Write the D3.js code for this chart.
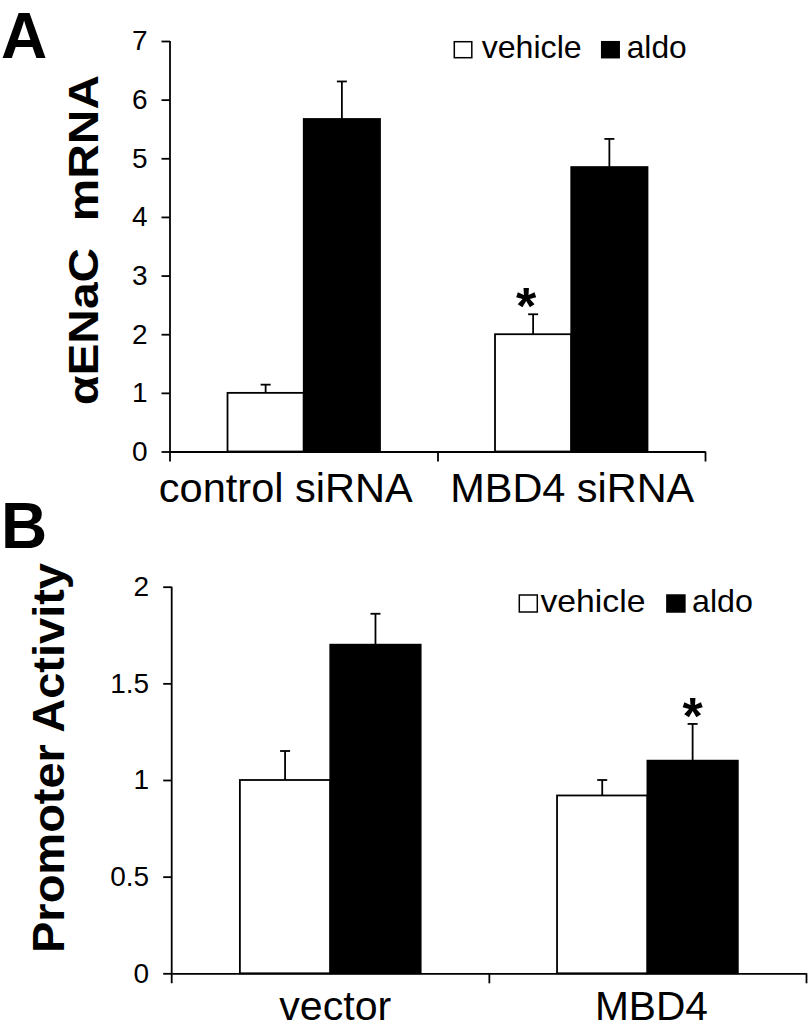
<!DOCTYPE html>
<html>
<head>
<meta charset="utf-8">
<script src="https://cdn.jsdelivr.net/npm/d3@7"></script>
<style>
  html, body { margin: 0; padding: 0; background: #fff; }
  svg { display: block; }
  text { font-family: "Liberation Sans", Arial, Helvetica, sans-serif; fill: #000; }
</style>
</head>
<body>
<svg id="chart" width="808" height="1034"></svg>
<script>
// ---------------- DATA ----------------
const seriesNames = ["vehicle", "aldo"];
const seriesFill = ["#ffffff", "#000000"];

// Panel A: alpha-ENaC mRNA
const aCategories = ["control siRNA", "MBD4 siRNA"];
const aVehicle = [1.0, 2.0];
const aVehicleErr = [0.14, 0.34];
const aAldo = [5.67, 4.85];
const aAldoErr = [0.64, 0.48];
const aTicks = [0, 1, 2, 3, 4, 5, 6, 7];
const aStars = [{ category: "MBD4 siRNA", series: "vehicle" }];

// Panel B: Promoter Activity
const bCategories = ["vector", "MBD4"];
const bVehicle = [1.0, 0.92];
const bVehicleErr = [0.15, 0.08];
const bAldo = [1.70, 1.10];
const bAldoErr = [0.16, 0.19];
const bTicks = [0, 0.5, 1, 1.5, 2];
const bTickLabels = ["0", "0.5", "1", "1.5", "2"];
const bStars = [{ category: "MBD4", series: "aldo" }];

// ---------------- DRAWING ----------------
const svg = d3.select("#chart");

function drawPanel(cfg) {
  const g = svg.append("g");
  const y = d3.scaleLinear().domain([0, cfg.max]).range([cfg.yBase, cfg.yTop]);
  const x = d3.scaleBand().domain(cfg.categories).range([cfg.x0, cfg.x1])
    .paddingInner(0.43).paddingOuter(0.215);
  const xs = d3.scaleBand().domain(seriesNames).range([0, x.bandwidth()]);

  const rows = [];
  cfg.categories.forEach((c, i) => {
    seriesNames.forEach((s, j) => {
      rows.push({ category: c, series: s, j: j,
        value: cfg.values[j][i], err: cfg.errors[j][i] });
    });
  });

  // bars
  g.selectAll("rect.bar").data(rows).enter().append("rect")
    .attr("class", "bar")
    .attr("x", d => x(d.category) + xs(d.series))
    .attr("y", d => y(d.value))
    .attr("width", xs.bandwidth())
    .attr("height", d => y(0) - y(d.value))
    .attr("fill", d => seriesFill[d.j])
    .attr("stroke", "#000")
    .attr("stroke-width", 1.8);

  // error bars (upper only)
  const cx = d => x(d.category) + xs(d.series) + xs.bandwidth() / 2;
  g.selectAll("line.err").data(rows).enter().append("line")
    .attr("x1", cx).attr("x2", cx)
    .attr("y1", d => y(d.value)).attr("y2", d => y(d.value + d.err))
    .attr("stroke", "#000").attr("stroke-width", 1.8);
  g.selectAll("line.cap").data(rows).enter().append("line")
    .attr("x1", d => cx(d) - 5).attr("x2", d => cx(d) + 5)
    .attr("y1", d => y(d.value + d.err)).attr("y2", d => y(d.value + d.err))
    .attr("stroke", "#000").attr("stroke-width", 1.8);

  // significance stars
  const starRows = rows.filter(r => cfg.stars.some(s => s.category === r.category && s.series === r.series));
  g.selectAll("text.star").data(starRows).enter().append("text")
    .attr("x", d => cx(d) + cfg.starDx)
    .attr("y", d => y(d.value + d.err) + 10)
    .attr("text-anchor", "middle")
    .attr("font-weight", "bold")
    .attr("font-size", 52)
    .text("*");

  // y axis
  const yAxis = d3.axisLeft(y).tickValues(cfg.ticks)
    .tickFormat((d, i) => cfg.tickLabels[i])
    .tickSize(8.5).tickSizeOuter(0).tickPadding(14);
  const ya = g.append("g").attr("transform", `translate(${cfg.x0},0)`).call(yAxis);
  ya.select(".domain").remove();
  ya.selectAll(".tick line").attr("stroke", "#000").attr("stroke-width", 1.8);
  ya.selectAll(".tick text").attr("font-size", 28).attr("fill", "#000")
    .style("font-family", '"Liberation Sans", Arial, sans-serif');
  g.append("line").attr("x1", cfg.x0).attr("x2", cfg.x0)
    .attr("y1", y(cfg.max)).attr("y2", y(0) + 10)
    .attr("stroke", "#000").attr("stroke-width", 1.8);

  // x axis (category boundary ticks)
  const xb = d3.scaleLinear().domain([0, cfg.categories.length]).range([cfg.x0, cfg.x1]);
  const xAxis = d3.axisBottom(xb).tickValues(d3.range(1, cfg.categories.length + 1))
    .tickFormat("").tickSize(10).tickSizeOuter(0);
  const xa = g.append("g").attr("transform", `translate(0,${y(0)})`).call(xAxis);
  xa.select(".domain").attr("stroke", "#000").attr("stroke-width", 1.8);
  xa.selectAll(".tick line").attr("stroke", "#000").attr("stroke-width", 1.8);

  // category labels
  g.selectAll("text.cat").data(cfg.categories).enter().append("text")
    .attr("x", (d, i) => x(d) + x.bandwidth() / 2 + cfg.labelDx[i])
    .attr("y", cfg.labelY)
    .attr("text-anchor", "middle")
    .attr("font-size", cfg.labelSize)
    .attr("textLength", (d, i) => cfg.labelLen[i])
    .attr("lengthAdjust", "spacingAndGlyphs")
    .text(d => d);

  // y title
  g.append("text")
    .attr("transform", `translate(${cfg.titleX},${cfg.titleY}) rotate(-90)`)
    .attr("text-anchor", "middle")
    .attr("font-weight", "bold")
    .attr("font-size", cfg.titleSize)
    .attr("textLength", cfg.titleLen)
    .attr("lengthAdjust", "spacingAndGlyphs")
    .style("white-space", "pre")
    .text(cfg.title);

  // panel letter
  g.append("text").attr("x", cfg.letterX).attr("y", cfg.letterY)
    .attr("font-weight", "bold").attr("font-size", 64).text(cfg.letter);

  // legend
  const L = cfg.legend;
  seriesNames.forEach((s, j) => {
    g.append("rect").attr("x", L.boxX[j]).attr("y", L.boxY)
      .attr("width", L.boxW).attr("height", L.boxH)
      .attr("fill", seriesFill[j]).attr("stroke", "#000").attr("stroke-width", 1.5);
    g.append("text").attr("x", L.textX[j]).attr("y", L.baseY)
      .attr("font-size", 32)
      .attr("textLength", L.textLen[j]).attr("lengthAdjust", "spacingAndGlyphs")
      .text(s);
  });
}

drawPanel({
  categories: aCategories, values: [aVehicle, aAldo], errors: [aVehicleErr, aAldoErr],
  ticks: aTicks, tickLabels: aTicks.map(String), max: 7, stars: aStars, starDx: -7,
  x0: 170, x1: 705, yTop: 41, yBase: 451.5,
  labelY: 502, labelSize: 40, labelLen: [254, 244], labelDx: [-18, 1],
  title: "αENaC  mRNA", titleX: 98, titleY: 240, titleSize: 42, titleLen: 330,
  letter: "A", letterX: 1, letterY: 58,
  legend: { boxX: [454.3, 601.7], boxY: 41.7, boxW: 17.5, boxH: 16,
            textX: [481.7, 626.7], textLen: [100, 60], baseY: 58 }
});

drawPanel({
  categories: bCategories, values: [bVehicle, bAldo], errors: [bVehicleErr, bAldoErr],
  ticks: bTicks, tickLabels: bTickLabels, max: 2, stars: bStars, starDx: 0,
  x0: 171.7, x1: 806, yTop: 586.7, yBase: 973.3,
  labelY: 1020, labelSize: 41, labelLen: [112, 113], labelDx: [5, 4],
  title: "Promoter Activity", titleX: 64, titleY: 758, titleSize: 44, titleLen: 390,
  letter: "B", letterX: 1, letterY: 548,
  legend: { boxX: [519.3, 666.9], boxY: 595, boxW: 18, boxH: 17,
            textX: [540.4, 692], textLen: [105, 61], baseY: 612 }
});
</script>
</body>
</html>
